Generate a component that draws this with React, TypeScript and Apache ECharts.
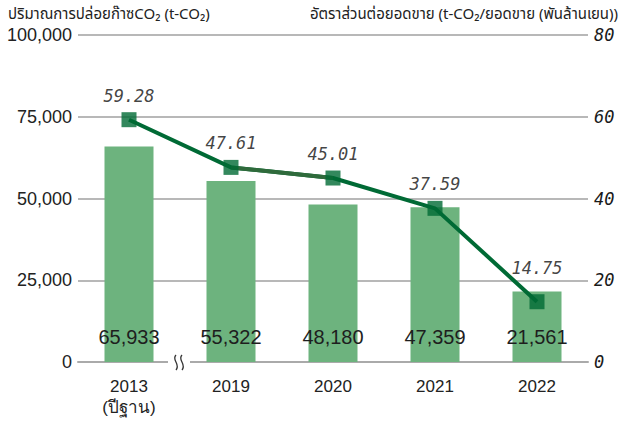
import React, { useEffect, useRef } from "react";
import * as echarts from "echarts";

const categories = ["2013\n(ปีฐาน)", "2019", "2020", "2021", "2022"];
const emissions = [65933, 55322, 48180, 47359, 21561];
const intensity = [59.28, 47.61, 45.01, 37.59, 14.75];
const segment = [null, 47.61, 45.01, null, null];
const leftTicks = { min: 0, max: 100000, interval: 25000 };
const rightTicks = { min: 0, max: 80, interval: 20 };
const leftTitle = "ปริมาณการปล่อยก๊าซCO₂ (t-CO₂)";
const rightTitle = "อัตราส่วนต่อยอดขาย (t-CO₂/ยอดขาย (พันล้านเยน))";

const SANS = "'Liberation Sans', Arial, sans-serif";
const THAI = "Tahoma, 'Noto Sans Thai', 'Noto Sans', 'DejaVu Sans', sans-serif";
const MONO = "'DejaVu Sans Mono', 'Liberation Mono', monospace";

const fmt = (v: number) => String(v).replace(/\B(?=(\d{3})+(?!\d))/g, ",");

export default function App() {
  const ref = useRef<HTMLDivElement>(null);
  useEffect(() => {
    document.body.style.margin = "0";
    const chart = echarts.init(ref.current!, null, { renderer: "svg" });
    const markerData = intensity.map((v, i) =>
      i === intensity.length - 1 ? { value: v, label: { distance: 18 } } : v
    );
    chart.setOption({
      animation: false,
      grid: { left: 78, right: 36, top: 35, bottom: 61, containLabel: false, outerBoundsMode: "none" },
      xAxis: {
        type: "category",
        data: categories,
        axisTick: { show: false },
        axisLine: { lineStyle: { color: "#aaaaaa", width: 2 } },
        axisLabel: { color: "#222", fontFamily: SANS, fontSize: 17, margin: 14, lineHeight: 21 },
      },
      yAxis: [
        {
          type: "value",
          ...leftTicks,
          axisLine: { show: false },
          axisTick: { show: false },
          splitLine: { lineStyle: { color: "#b8b8b8", width: 2 } },
          axisLabel: { color: "#222", fontFamily: SANS, fontSize: 18, margin: 6, formatter: (v: number) => fmt(v) },
        },
        {
          type: "value",
          ...rightTicks,
          position: "right",
          axisLine: { show: false },
          axisTick: { show: false },
          splitLine: { show: false },
          axisLabel: { color: "#1a1a1a", fontFamily: MONO, fontStyle: "italic", fontSize: 17, margin: 6 },
        },
      ],
      series: [
        {
          type: "bar",
          data: emissions,
          barWidth: 49,
          itemStyle: { color: "#6db37e" },
          label: {
            show: true,
            position: "insideBottom",
            distance: 15,
            color: "#1e1e1e",
            fontFamily: SANS,
            fontSize: 20,
            formatter: (p: any) => fmt(p.value),
          },
          z: 1,
        },
        {
          type: "line",
          yAxisIndex: 1,
          data: intensity,
          showSymbol: false,
          lineStyle: { color: "#006a35", width: 4 },
          z: 2,
        },
        {
          type: "line",
          yAxisIndex: 1,
          data: segment,
          showSymbol: false,
          lineStyle: { color: "#2f6a3b", width: 4 },
          z: 3,
        },
        {
          type: "scatter",
          yAxisIndex: 1,
          data: markerData,
          symbol: "rect",
          symbolSize: 15,
          itemStyle: { color: "#006a35" },
          label: {
            show: true,
            position: "top",
            distance: 8,
            color: "#111",
            fontFamily: MONO,
            fontStyle: "italic",
            fontSize: 17,
            formatter: (p: any) => Number(p.value).toFixed(2),
          },
          z: 4,
        },
      ],
      graphic: [
        { type: "text", left: 8, top: 7, style: { text: leftTitle, fontFamily: THAI, fontSize: 15, fill: "#222" } },
        { type: "text", right: 6, top: 7, style: { text: rightTitle, fontFamily: THAI, fontSize: 15, fill: "#222" } },
        { type: "rect", shape: { x: 168, y: 356, width: 22, height: 12 }, style: { fill: "#fff" }, z: 10 },
        {
          type: "bezierCurve",
          shape: { x1: 176, y1: 355, cpx1: 171, cpy1: 360, cpx2: 181, cpy2: 364, x2: 176, y2: 370 },
          style: { stroke: "#333", lineWidth: 1.3, fill: "none" },
          z: 11,
        },
        {
          type: "bezierCurve",
          shape: { x1: 182, y1: 355, cpx1: 177, cpy1: 360, cpx2: 187, cpy2: 364, x2: 182, y2: 370 },
          style: { stroke: "#333", lineWidth: 1.3, fill: "none" },
          z: 11,
        },
      ],
    });
    return () => chart.dispose();
  }, []);
  return <div ref={ref} style={{ width: 624, height: 423 }} />;
}
